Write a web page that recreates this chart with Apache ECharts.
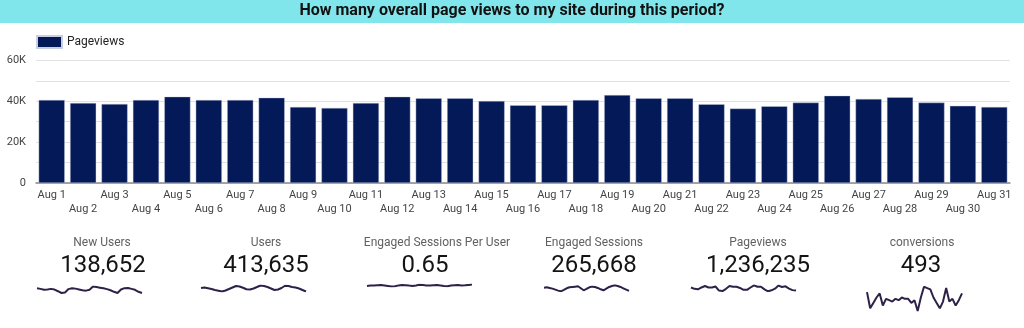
<!DOCTYPE html>
<html>
<head>
<meta charset="utf-8">
<title>Page views</title>
<script src="https://cdn.jsdelivr.net/npm/echarts@6/dist/echarts.min.js"></script>
<style>
  html, body { margin: 0; padding: 0; background: #ffffff; }
  #chart { width: 1024px; height: 328px; }
</style>
</head>
<body>
<div id="chart"></div>
<script>
// Daily labels for August
const days = ['Aug 1','Aug 2','Aug 3','Aug 4','Aug 5','Aug 6','Aug 7','Aug 8','Aug 9','Aug 10',
  'Aug 11','Aug 12','Aug 13','Aug 14','Aug 15','Aug 16','Aug 17','Aug 18','Aug 19','Aug 20',
  'Aug 21','Aug 22','Aug 23','Aug 24','Aug 25','Aug 26','Aug 27','Aug 28','Aug 29','Aug 30','Aug 31'];

// Daily pageviews (bars and the Pageviews sparkline)
const pageviews = [40600, 39100, 38600, 40600, 42200, 40600, 40600, 41700, 37200, 36700,
  39100, 42200, 41400, 41400, 40100, 38000, 38000, 40600, 43000, 41400,
  41400, 38500, 36400, 37500, 39300, 42700, 41100, 41900, 39300, 37700, 37200];

// Daily values behind the scorecard sparklines
const newUsers = [4550, 4500, 4420, 4450, 4500, 4440, 4300, 4150, 4200, 4480,
  4550, 4520, 4450, 4380, 4350, 4420, 4700, 4650, 4600, 4550,
  4480, 4380, 4250, 4150, 4450, 4560, 4580, 4500, 4420, 4250, 4150];
const users = [13300, 13400, 13250, 13100, 12900, 12750, 12600, 12800, 13100, 13400,
  13700, 13600, 13350, 13050, 13000, 13200, 13500, 13800, 13700, 13500,
  13200, 12900, 13000, 13300, 13750, 13700, 13500, 13400, 13200, 12900, 12600];
const engagedPerUser = [0.645, 0.650, 0.648, 0.652, 0.655, 0.650, 0.645, 0.640, 0.642, 0.650,
  0.655, 0.652, 0.648, 0.645, 0.650, 0.656, 0.653, 0.650, 0.648, 0.652,
  0.655, 0.650, 0.645, 0.642, 0.648, 0.652, 0.654, 0.650, 0.652, 0.655, 0.658];
const engagedSessions = [8600, 8650, 8550, 8450, 8300, 8150, 8050, 8250, 8500, 8650,
  8700, 8750, 8800, 8500, 8200, 8400, 8650, 8750, 8700, 8550,
  8350, 8200, 8450, 8700, 8850, 8950, 8850, 8700, 8500, 8300, 8100];
const conversions = [21, 9, 13, 17, 20, 11, 16, 15, 14, 16,
  15, 17, 16, 16, 13, 15, 7, 17, 25, 24,
  23, 17, 13, 9, 14, 24, 14, 16, 11, 15, 20];

// Scorecard labels and totals
const cardLabels = ['New Users', 'Users', 'Engaged Sessions Per User', 'Engaged Sessions', 'Pageviews', 'conversions'];
const cardValues = ['138,652', '413,635', '0.65', '265,668', '1,236,235', '493'];
const cardSeries = [newUsers, users, engagedPerUser, engagedSessions, pageviews, conversions];

// Y axis tick labels (every other gridline is labelled)
const yTickLabels = { 0: '0', 20000: '20K', 40000: '40K', 60000: '60K' };

// Scorecard layout: label centre, value centre, sparkline box
const cardLayout = [
  { lx: 102, vx: 103, spark: { left: 37,  width: 105, top: 286.5, height: 6.5 } },
  { lx: 266, vx: 266, spark: { left: 201, width: 105, top: 285.5, height: 6 } },
  { lx: 437, vx: 425, spark: { left: 367, width: 105, top: 284.6, height: 1.8 } },
  { lx: 594, vx: 594, spark: { left: 544, width: 85,  top: 285.3, height: 6 } },
  { lx: 758, vx: 758, spark: { left: 691, width: 105, top: 285.3, height: 6 } },
  { lx: 922, vx: 921, spark: { left: 867, width: 95,  top: 286.7, height: 24.3 } }
];

const FONT = 'Roboto, "Noto Sans", sans-serif';
const SPARK_COLOR = '#2d2148';

const grids = [{ left: 36, right: 14, top: 60.3, bottom: 145 }];
const xAxes = [{
  type: 'category', data: days, gridIndex: 0,
  axisTick: { show: false },
  axisLine: { lineStyle: { color: '#8a8a8a', width: 1.5 } },
  axisLabel: {
    interval: 0, hideOverlap: false, margin: 5,
    fontFamily: FONT, fontSize: 11, color: '#444', lineHeight: 14,
    formatter: (v, i) => (i % 2 === 0 ? v : '\n' + v)
  }
}];
const yAxes = [{
  type: 'value', gridIndex: 0, min: 0, max: 60000, interval: 10000,
  axisLine: { show: false }, axisTick: { show: false },
  axisLabel: {
    margin: 10, fontFamily: FONT, fontSize: 11, color: '#444',
    formatter: v => (yTickLabels[v] !== undefined ? yTickLabels[v] : '')
  },
  splitLine: { lineStyle: { color: '#e2e2e2', width: 1 } }
}];
const seriesList = [{
  name: 'Pageviews', type: 'bar', data: pageviews,
  xAxisIndex: 0, yAxisIndex: 0,
  barCategoryGap: '17%',
  itemStyle: { color: '#041a58', borderColor: '#c9cfe0', borderWidth: 0.4 },
  emphasis: { disabled: true }
}];

const graphics = [
  { type: 'rect', z: -1, shape: { x: 0, y: 0, width: 1024, height: 23 }, style: { fill: '#80e6eb' } }
];

cardLabels.forEach((label, k) => {
  const lay = cardLayout[k];
  graphics.push({
    type: 'text', x: lay.lx, y: 242.5,
    style: { text: label, align: 'center', verticalAlign: 'middle', fontFamily: FONT, fontSize: 12, fill: '#616161' }
  });
  graphics.push({
    type: 'text', x: lay.vx, y: 266,
    style: { text: cardValues[k], align: 'center', verticalAlign: 'middle', fontFamily: FONT, fontSize: 24, fill: '#141414' }
  });
  const g = grids.length;
  grids.push(Object.assign({}, lay.spark));
  xAxes.push({ type: 'category', gridIndex: g, data: days, show: false, boundaryGap: false });
  yAxes.push({ type: 'value', gridIndex: g, show: false, scale: true, min: 'dataMin', max: 'dataMax' });
  seriesList.push({
    name: label, type: 'line', xAxisIndex: g, yAxisIndex: g,
    data: cardSeries[k], symbol: 'none', silent: true,
    lineStyle: { color: SPARK_COLOR, width: 2 }
  });
});

const chart = echarts.init(document.getElementById('chart'), null, { renderer: 'canvas' });
chart.setOption({
  animation: false,
  title: {
    text: 'How many overall page views to my site during this period?',
    left: 'center', top: 3, padding: 0,
    textStyle: { fontFamily: FONT, fontSize: 16, fontWeight: 'bold', color: '#111' }
  },
  legend: {
    data: ['Pageviews'], left: 36, top: 35, padding: 0,
    itemWidth: 25, itemHeight: 12, itemGap: 5,
    icon: 'rect',
    textStyle: { fontFamily: FONT, fontSize: 12, color: '#222', padding: [0, 0, 0, 0] },
    selectedMode: false
  },
  graphic: graphics,
  grid: grids,
  xAxis: xAxes,
  yAxis: yAxes,
  series: seriesList
});
</script>
</body>
</html>
